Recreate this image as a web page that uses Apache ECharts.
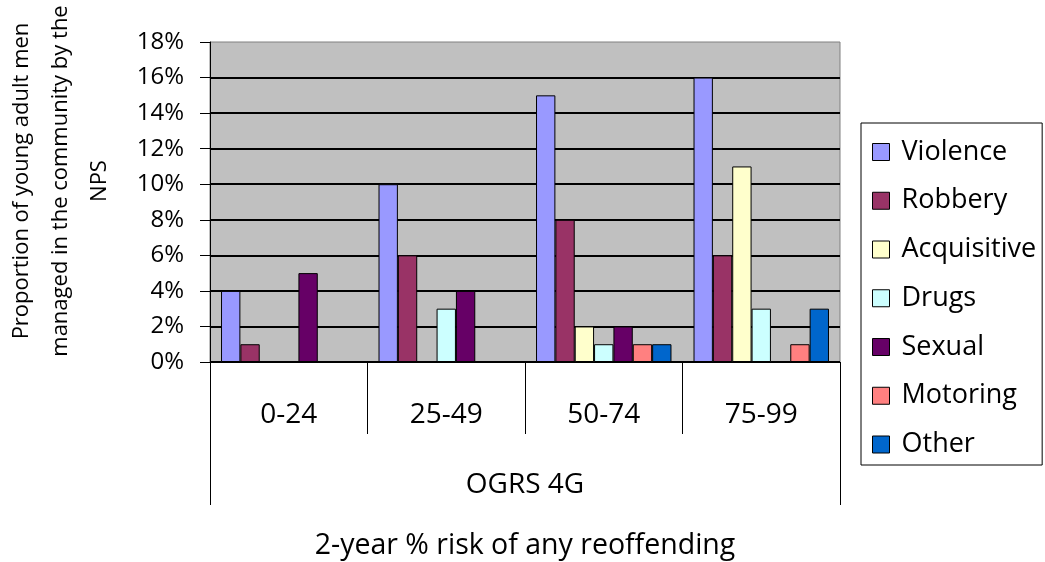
<!DOCTYPE html>
<html><head><meta charset="utf-8">
<script src="https://cdn.jsdelivr.net/npm/echarts@6/dist/echarts.min.js"></script>
<style>html,body{margin:0;padding:0;background:#fff}#c{width:1045px;height:562px}</style>
</head><body><div id="c"></div>
<script>
const categories = ['0-24', '25-49', '50-74', '75-99'];
const groupLabels = ['OGRS 4G'];
const seriesNames = ['Violence', 'Robbery', 'Acquisitive', 'Drugs', 'Sexual', 'Motoring', 'Other'];
const violence = [4, 10, 15, 16];
const robbery = [1, 6, 8, 6];
const acquisitive = [null, null, 2, 11];
const drugs = [null, 3, 1, 3];
const sexual = [5, 4, 2, null];
const motoring = [null, null, 1, 1];
const other = [null, null, 1, 3];
const seriesColors = ['#9999FF', '#993366', '#FFFFCC', '#CCFFFF', '#660066', '#FF8080', '#0066CC'];
const yMin = 0, yMax = 18, yStep = 2;
const xTitle = '2-year % risk of any reoffending';
const yTitleLines = ['Proportion of young adult men', 'managed in the community by the', 'NPS'];

const values = [violence, robbery, acquisitive, drugs, sexual, motoring, other];
const FONT = '"Open Sans"';

const chart = echarts.init(document.getElementById('c'), null, {renderer: 'canvas'});
chart.setOption({
  animation: false,
  textStyle: {fontFamily: FONT, color: '#000'},
  grid: {
    left: 210, right: 205, top: 42, bottom: 200,
    outerBoundsMode: 'none', containLabel: false,
    show: true, backgroundColor: '#C0C0C0', borderColor: '#808080', borderWidth: 1
  },
  legend: {
    orient: 'vertical', left: 861, top: 123,
    padding: [15.5, 6, 7, 11],
    itemWidth: 17, itemHeight: 17, itemGap: 21.75,
    icon: 'rect',
    itemStyle: {borderColor: '#000', borderWidth: 1},
    borderColor: '#000', borderWidth: 1, backgroundColor: '#fff',
    textStyle: {fontFamily: FONT, fontSize: 27, lineHeight: 27, color: '#000', padding: [0, 0, 0, 7]},
    data: seriesNames
  },
  xAxis: [{
    type: 'category', data: categories, position: 'bottom',
    axisLine: {show: true, lineStyle: {color: '#000', width: 1}},
    axisTick: {show: true, length: 72, lineStyle: {color: '#000', width: 1}},
    axisLabel: {margin: 39, fontSize: 28, color: '#000', fontFamily: FONT},
    splitLine: {show: false}
  }, {
    type: 'category', data: groupLabels, position: 'bottom', gridIndex: 0,
    axisLine: {show: false},
    axisTick: {show: true, length: 143, lineStyle: {color: '#000', width: 1}},
    axisLabel: {margin: 109, fontSize: 28, color: '#000', fontFamily: FONT},
    name: xTitle, nameLocation: 'middle', nameGap: 169,
    nameTextStyle: {fontSize: 28.5, color: '#000', fontFamily: FONT}
  }],
  yAxis: {
    type: 'value', min: yMin, max: yMax, interval: yStep,
    axisLine: {show: true, lineStyle: {color: '#000', width: 1}},
    axisTick: {show: true, length: 10, lineStyle: {color: '#000', width: 1}},
    axisLabel: {formatter: '{value}%', fontSize: 24, color: '#000', margin: 26, fontFamily: FONT},
    splitLine: {show: true, showMaxLine: false, lineStyle: {color: '#000', width: 2}}
  },
  graphic: [{
    type: 'text', x: 61, y: 181, rotation: Math.PI / 2,
    style: {
      text: yTitleLines.join('\n'), align: 'center', verticalAlign: 'middle',
      font: '22px "Open Sans"', lineHeight: 39, fill: '#000'
    }
  }],
  series: seriesNames.map((name, i) => ({
    name, type: 'bar', xAxisIndex: 0, data: values[i],
    barGap: '0%', barCategoryGap: '14%',
    itemStyle: {color: seriesColors[i], borderColor: '#000', borderWidth: 1}
  }))
});
</script></body></html>
